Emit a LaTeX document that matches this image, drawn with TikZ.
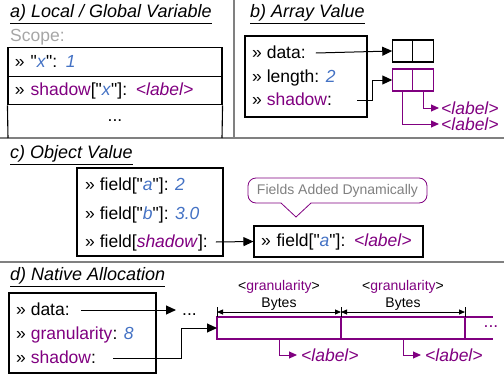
\documentclass[tikz,border=0pt]{standalone}
\usepackage{fontspec}
\setmainfont{Liberation Sans}[Ligatures=TeXOff]
\usetikzlibrary{positioning,arrows.meta}
\definecolor{valblue}{RGB}{68,114,196}
\definecolor{shadowpurple}{RGB}{128,0,128}
\definecolor{rulegray}{RGB}{128,128,128}
\newcommand{\bval}[1]{\textcolor{valblue}{\textit{#1}}}
\newcommand{\pshadow}[1]{\textcolor{shadowpurple}{#1}}
\newcommand{\plabel}{\textcolor{shadowpurple}{\textit{<label>}}}

\begin{document}
\begin{tikzpicture}[x=1pt, y=-1pt,
  every node/.style={font=\fontsize{17.5}{20}\selectfont, inner sep=1pt},
  title/.style={anchor=west, font=\fontsize{18}{21}\selectfont\itshape},
  entry/.style={anchor=west, text height=13pt, text depth=3pt},
  frame/.style={draw, line width=1.1pt},
  row/.style={frame, text width=200pt, inner xsep=7pt, minimum height=28.5pt, text height=13pt, text depth=3pt, align=left},
  cell/.style={draw, line width=1.1pt, outer sep=0pt, minimum width=20.5pt, minimum height=22pt, inner sep=0pt},
  tag/.style={anchor=west, inner xsep=2pt, text=shadowpurple, font=\fontsize{17.5}{20}\selectfont\itshape},
  sep/.style={draw=rulegray, line width=1.5pt},
  ptr/.style={-{Triangle[length=10pt,width=9pt]}, line width=1pt},
  pptr/.style={-{Triangle[length=8pt,width=7pt]}, line width=1pt, shadowpurple},
  dim/.style={{Triangle[length=6pt,width=5pt]}-{Triangle[length=6pt,width=5pt]}, line width=0.8pt},
  small/.style={font=\fontsize{14}{17}\selectfont}]

\useasboundingbox (0,0) rectangle (504,375);

% Separators
\draw[sep] (234,0) -- (234,138);
\draw[sep] (0,138) -- (504,138);
\draw[sep] (0,262) -- (504,262);

% a) Local / Global Variable
\node[title] (atitle) at (9,14) {\underline{a) Local / Global Variable}};
\node[entry, text=gray!70] (scope) at (9,36) {Scope:};
\node[row] (xrow) at (115,62) {» "\bval{x}": \bval{1}};
\node[row] (srow) at (115,90.5) {» \pshadow{shadow}["\bval{x}"]: \plabel};
\node (adots) at (115,121) {...};
\draw[line width=1.1pt] (srow.south west) -- (8,138);
\draw[line width=1.1pt] (srow.south east) -- (222,138);

% b) Array Value
\node[title] (btitle) at (249,14) {\underline{b) Array Value}};
\node[frame, minimum width=122pt, minimum height=81pt] (abox) at (306,76.5) {};
\node[entry] (adata) at (251,53) {» data:};
\node[entry] (alength) at (251,77) {» length: \bval{2}};
\node[entry] (ashadow) at (251,100) {» \pshadow{shadow}:};
\node[cell] (d1) at (402.5,51) {};
\node[cell, right=0pt of d1] (d2) {};
\node[cell, draw=shadowpurple] (s1) at (402.5,80) {};
\node[cell, draw=shadowpurple, right=0pt of s1] (s2) {};
\node[tag] (blab1) at (439,108) {<label>};
\node[tag] (blab2) at (439,124) {<label>};

\draw[ptr] ([xshift=9pt]adata.east) -- (d1.west);
\draw[ptr] ([xshift=24pt]ashadow.east) -- ++(15,0) |- (s1.west);
\draw[pptr] (s2.south) |- (blab1.west);
\draw[pptr] (s1.south) |- (blab2.west);

% c) Object Value
\node[title] (ctitle) at (9,155) {\underline{c) Object Value}};
\node[frame, minimum width=146pt, minimum height=88pt] (obox) at (150,212) {};
\node[entry] (fa) at (84,185) {» field["\bval{a}"]: \bval{2}};
\node[entry] (fb) at (84,214) {» field["\bval{b}"]: \bval{3.0}};
\node[entry] (fs) at (84,242) {» field[\pshadow{\textit{shadow}}]:};
\node[frame, minimum width=169pt, minimum height=31pt, text width=155pt, inner xsep=7pt, text height=13pt, text depth=3pt, align=left] (fadd) at (338.5,241.5) {» field["\bval{a}"]: \plabel};
\node[small, text=rulegray] (note) at (337.5,190.5) {Fields Added Dynamically};
\draw[shadowpurple, line width=0.8pt] (296,217) -- (311,203) [rounded corners=8pt] -- (427,203) -- (427,178) -- (248,178) -- (248,203) [sharp corners] -- (281,203) -- cycle;

\draw[ptr] ([xshift=7pt]fs.east) -- (fadd.west);

% d) Native Allocation
\node[title] (dtitle) at (9,277) {\underline{d) Native Allocation}};
\node[frame, minimum width=147pt, minimum height=80pt] (nbox) at (82.5,333) {};
\node[entry] (ndata) at (15,310) {» data:};
\node[entry] (ngran) at (15,334) {» \pshadow{granularity}: \bval{8}};
\node[entry] (nshadow) at (15,358) {» \pshadow{shadow}:};
\node[entry, inner xsep=6pt] (ndots) at (176,310) {...};
\node[cell, draw=shadowpurple, minimum width=124pt] (g1) at (279,328) {};
\node[cell, draw=shadowpurple, minimum width=124pt, right=0pt of g1] (g2) {};
\draw[shadowpurple, line width=1.1pt] (g2.north east) -- ++(28,0);
\draw[shadowpurple, line width=1.1pt] (g2.south east) -- ++(28,0);
\node[text=shadowpurple] (gdots) at (491,327) {...};
\node[small, align=center] (gran1) at (279,295.5) {<\pshadow{granularity}>\\Bytes};
\node[small, align=center] (gran2) at (403,295.5) {<\pshadow{granularity}>\\Bytes};
\node[tag, inner xsep=4pt] (dlab1) at (297,355) {<label>};
\node[tag, inner xsep=4pt] (dlab2) at (421,355) {<label>};

\draw[line width=0.8pt] (g1.north west) -- ++(0,-10);
\draw[line width=0.8pt] (g1.north east) -- ++(0,-10);
\draw[line width=0.8pt] (g2.north east) -- ++(0,-10);
\draw[dim] ([yshift=5pt]g1.north west) -- ([yshift=5pt]g1.north east);
\draw[dim] ([yshift=5pt]g2.north west) -- ([yshift=5pt]g2.north east);

\draw[ptr] ([xshift=10pt]ndata.east) -- (ndots.west);
\draw[ptr] ([xshift=16pt]nshadow.east) -- ++(68,0) |- (g1.west);
\draw[pptr] (g1.south) |- (dlab1.west);
\draw[pptr] (g2.south) |- (dlab2.west);

\end{tikzpicture}
\end{document}
